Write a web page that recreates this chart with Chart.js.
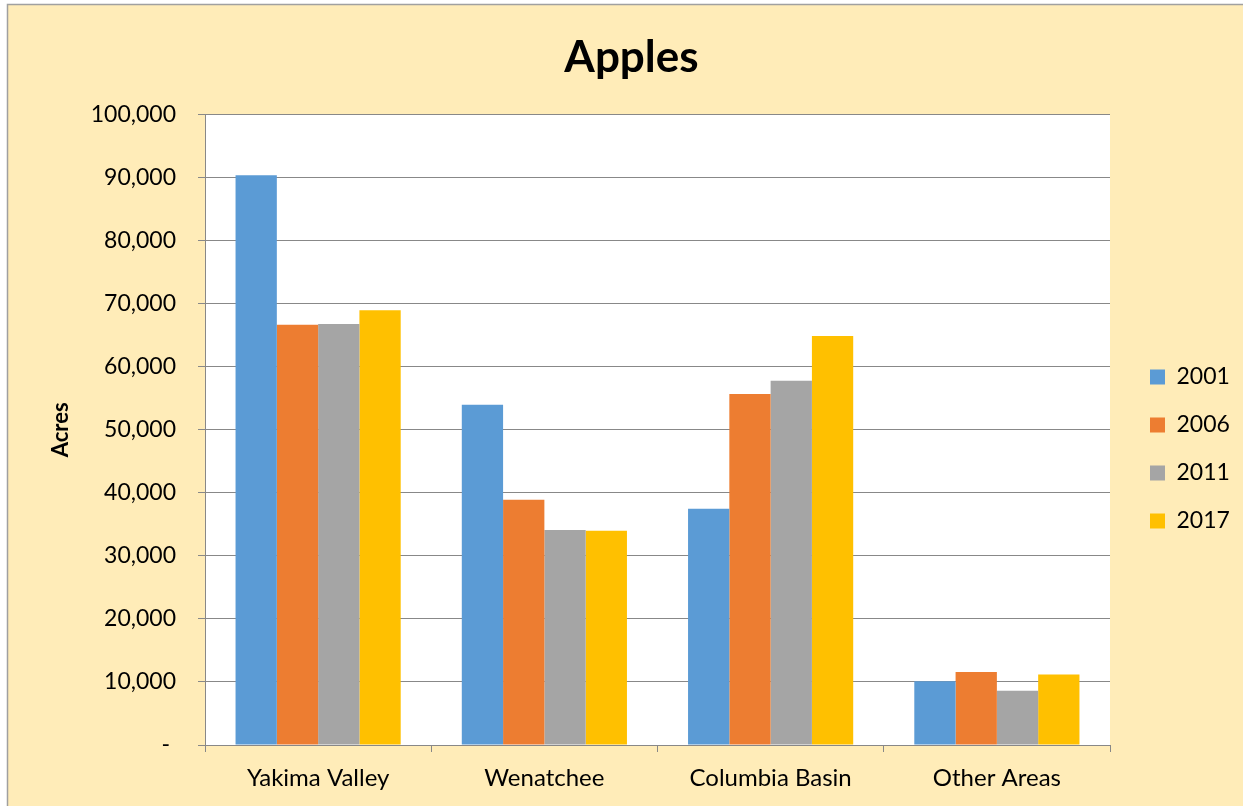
<!DOCTYPE html>
<html>
<head>
<meta charset="utf-8">
<script src="https://cdn.jsdelivr.net/npm/chart.js@4.4.0/dist/chart.umd.min.js"></script>
<style>
  html, body { margin: 0; padding: 0; background: #fff; }
  #wrap { width: 1243px; height: 806px; position: relative; }
</style>
</head>
<body>
<div id="wrap"><canvas id="chart"></canvas></div>
<script>
// acres of apples by area and year
const areas = ["Yakima Valley", "Wenatchee", "Columbia Basin", "Other Areas"];
const years = ["2001", "2006", "2011", "2017"];
const acres2001 = [90400, 54000, 37500, 10100];
const acres2006 = [66700, 38900, 55700, 11600];
const acres2011 = [66800, 34100, 57800, 8600];
const acres2017 = [69000, 34000, 64900, 11200];
const yTicks = [0, 10000, 20000, 30000, 40000, 50000, 60000, 70000, 80000, 90000, 100000];

const barColors = ["#5B9BD5", "#ED7D31", "#A5A5A5", "#FFC000"];
const FONT = "Lato, 'Open Sans', sans-serif";
const GRID = "#888888";

// cream box behind everything, white plot area
const backdrop = {
  id: "backdrop",
  beforeDraw(chart) {
    const { ctx, chartArea } = chart;
    ctx.save();
    ctx.fillStyle = "#fff";
    ctx.fillRect(0, 0, chart.width, chart.height);
    ctx.fillStyle = "#FFECB8";
    ctx.fillRect(7, 4, chart.width - 7, chart.height - 4);
    ctx.strokeStyle = "#A0A0A0";
    ctx.lineWidth = 1.5;
    ctx.strokeRect(7.5, 4.5, chart.width, chart.height);
    ctx.fillStyle = "#fff";
    ctx.fillRect(chartArea.left, chartArea.top, chartArea.right - chartArea.left, chartArea.bottom - chartArea.top);
    ctx.restore();
  }
};

// legend column: fixed width, items nudged right/down like the excel one
const legendPlace = {
  id: "legendPlace",
  beforeLayout(chart) {
    const lg = chart.legend;
    if (!lg || lg._fixed) return;
    const fit = lg.fit.bind(lg);
    lg.fit = function () { fit(); this.width = 105; };
    lg._fixed = true;
  },
  afterLayout(chart) {
    const lg = chart.legend;
    lg.left += 15; lg.right += 15;
    lg.top += 44; lg.bottom += 44;
  }
};

const datasets = [acres2001, acres2006, acres2011, acres2017].map((vals, i) => ({
  label: years[i],
  data: vals,
  backgroundColor: barColors[i],
  borderWidth: 0
}));

new Chart(document.getElementById("chart"), {
  type: "bar",
  data: { labels: areas, datasets: datasets },
  plugins: [backdrop, legendPlace],
  options: {
    responsive: true,
    maintainAspectRatio: false,
    animation: false,
    layout: { padding: { left: 48, right: 28, top: 4, bottom: 0 } },
    datasets: { bar: { barPercentage: 1, categoryPercentage: 0.73 } },
    plugins: {
      title: {
        display: true,
        text: "Apples",
        color: "#000",
        font: { family: FONT, size: 44, weight: "bold" },
        padding: { top: 27, bottom: 31 }
      },
      legend: {
        position: "right",
        labels: {
          color: "#000",
          font: { family: FONT, size: 23 },
          boxWidth: 15,
          boxHeight: 15,
          padding: 25
        }
      },
      tooltip: { enabled: false }
    },
    scales: {
      x: {
        offset: true,
        afterFit(scale) { scale.height = 61; },
        grid: { offset: true, drawOnChartArea: false, color: GRID, tickLength: 7 },
        border: { color: GRID },
        ticks: { color: "#000", font: { family: FONT, size: 24 }, padding: 12 }
      },
      y: {
        min: 0,
        max: 100000,
        afterBuildTicks(scale) { scale.ticks = yTicks.map(v => ({ value: v })); },
        afterFit(scale) { scale.width = 157; },
        grid: { color: GRID, tickLength: 7 },
        border: { color: GRID },
        ticks: {
          color: "#000",
          font: { family: FONT, size: 23 },
          padding: 22,
          callback: v => v === 0 ? "- " : v.toLocaleString("en-US")
        },
        title: {
          display: true,
          text: "Acres",
          color: "#000",
          font: { family: FONT, size: 22, weight: "bold" },
          padding: 0
        }
      }
    }
  }
});
</script>
</body>
</html>
